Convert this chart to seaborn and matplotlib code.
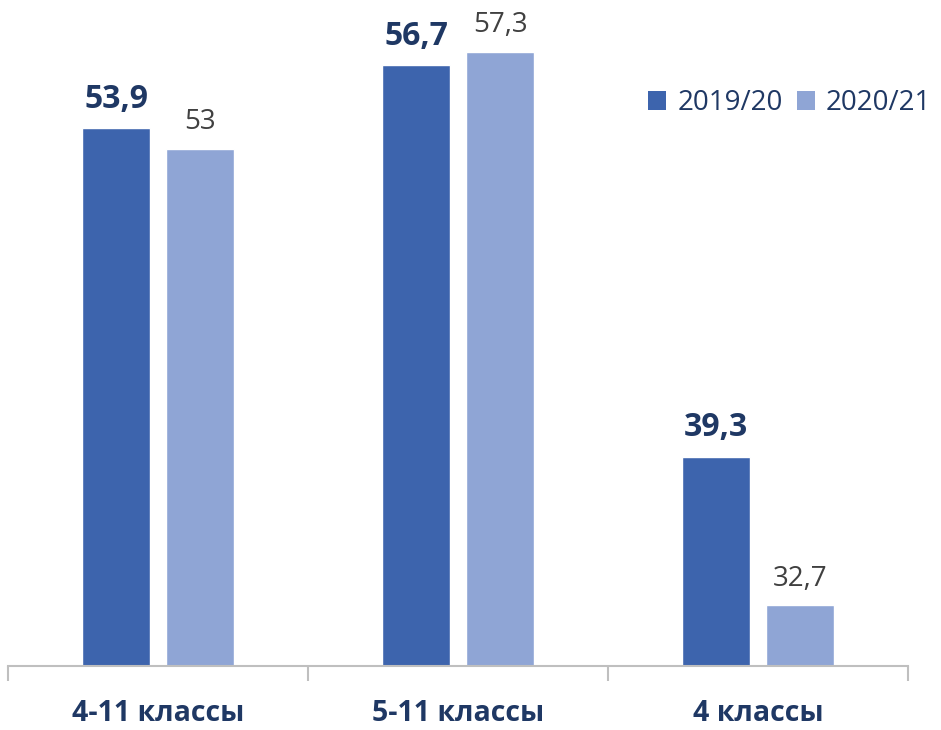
import matplotlib
matplotlib.use("Agg")
import matplotlib.pyplot as plt
import seaborn as sns
import pandas as pd
from matplotlib.patches import Patch

categories = ["4-11 классы", "5-11 классы", "4 классы"]
series_names = ["2019/20", "2020/21"]
values_2019 = [53.9, 56.7, 39.3]
values_2020 = [53.0, 57.3, 32.7]
labels_2019 = ["53,9", "56,7", "39,3"]
labels_2020 = ["53", "57,3", "32,7"]

colors = ["#3D64AD", "#8FA5D5"]
navy = "#1F3864"

df = pd.DataFrame({
    "cat": categories * 2,
    "series": [series_names[0]] * 3 + [series_names[1]] * 3,
    "value": values_2019 + values_2020,
})

sns.set_theme(style="white")
plt.rcParams["font.family"] = ["Open Sans", "DejaVu Sans"]

fig = plt.figure(figsize=(9.41, 7.30), dpi=100)
ax = fig.add_axes([8 / 941, 64 / 730, 900 / 941, 666 / 730])

sns.barplot(data=df, x="cat", y="value", hue="series", order=categories,
            hue_order=series_names, palette=colors, width=0.56, gap=0.2,
            saturation=1, legend=False, ax=ax)

ax.set_ylim(30, 59.6)
ax.set_xlim(-0.5, 2.5)
ax.set_xlabel("")
ax.set_ylabel("")
ax.set_yticks([])
for s in ["top", "right", "left"]:
    ax.spines[s].set_visible(False)
ax.spines["bottom"].set_color("#BFBFBF")
ax.spines["bottom"].set_linewidth(1.5)

ax.set_xticks([-0.5, 0.5, 1.5, 2.5], minor=True)
ax.tick_params(axis="x", which="minor", length=11, width=1.5, color="#BFBFBF",
               direction="out", bottom=True)
ax.tick_params(axis="x", which="major", length=0, pad=24)
for lab in ax.get_xticklabels():
    lab.set_fontsize(20.5)
    lab.set_fontweight("bold")
    lab.set_color(navy)

# value labels
containers = ax.containers
for bar, txt in zip(containers[0], labels_2019):
    ax.annotate(txt, (bar.get_x() + bar.get_width() / 2, bar.get_height()),
                xytext=(0, 9), textcoords="offset points", ha="center",
                va="bottom", fontsize=23, fontweight="bold", color=navy)
for bar, txt in zip(containers[1], labels_2020):
    ax.annotate(txt, (bar.get_x() + bar.get_width() / 2, bar.get_height()),
                xytext=(0, 9), textcoords="offset points", ha="center",
                va="bottom", fontsize=20, color="#404040")

handles = [Patch(facecolor=c, edgecolor="none") for c in colors]
leg = ax.legend(handles, series_names, loc="center right",
                bbox_to_anchor=(1.038, (730 - 103 - 64) / 666), ncol=2, frameon=False,
                fontsize=20, handlelength=0.65, handleheight=0.65,
                handletextpad=0.4, columnspacing=0.5, borderaxespad=0)
for t in leg.get_texts():
    t.set_color(navy)

fig.savefig("out.png", dpi=100)
